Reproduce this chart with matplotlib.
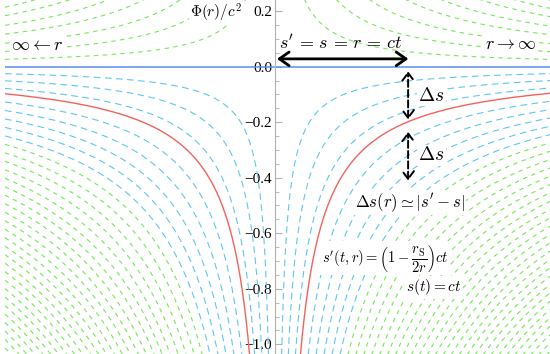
import numpy as np
import matplotlib
matplotlib.use("Agg")
import matplotlib.pyplot as plt

plt.rcParams['mathtext.fontset'] = 'cm'
plt.rcParams['font.family'] = ['Liberation Serif', 'DejaVu Serif']

# potential curves Phi = -k/|r| (k read at the plot edge)
k_red = 0.096
k_blue = [0.025, 0.05, 0.077, 0.125, 0.155, 0.185, 0.215, 0.245]
k_green_low = [0.275, 0.305, 0.335, 0.365, 0.395, 0.425, 0.455, 0.485, 0.515,
               0.545, 0.575, 0.605, 0.635, 0.665, 0.695, 0.725, 0.755, 0.785,
               0.815, 0.845, 0.875, 0.905, 0.935, 0.965, 0.995, 1.025, 1.055]
# upper family Phi = +k/|r|
k_green_up = [0.026, 0.054, 0.083, 0.115, 0.146, 0.18, 0.21, 0.24]

yticks = [0.2, 0.0, -0.2, -0.4, -0.6, -0.8, -1.0]

blue = '#5ec6f2'
green = '#74e858'
red = '#f2625c'
line0 = '#5b8ff0'

fig = plt.figure(figsize=(5.5, 3.54), dpi=100)
ax = fig.add_axes([5 / 550, 0, 545 / 550, 1])

xl = np.linspace(-0.982, -0.002, 2000)
xr = np.linspace(0.002, 1.0, 2000)

for xs in (xl, xr):
    for k in k_green_low:
        ax.plot(xs, -k / np.abs(xs), color=green, lw=0.8, dashes=(4, 4))
    for k in k_green_up:
        ax.plot(xs, k / np.abs(xs), color=green, lw=0.8, dashes=(4, 4))
    for k in k_blue:
        ax.plot(xs, -k / np.abs(xs), color=blue, lw=0.8, dashes=(6, 4))
    ax.plot(xs, -k_red / np.abs(xs), color=red, lw=1.0)

ax.axhline(0, color=line0, lw=1.1)

ax.set_xlim(-0.982, 1.0)
ax.set_ylim(-1.035, 0.24)

for s in ['top', 'right', 'bottom']:
    ax.spines[s].set_visible(False)
ax.spines['left'].set_position(('data', 0))
ax.spines['left'].set_color('#b0b0b0')
ax.spines['left'].set_zorder(5)
ax.set_xticks([])
ax.set_yticks(yticks)
ax.set_yticklabels(['%.1f' % v if v >= 0 else '\u2212%.1f' % -v for v in yticks])
ax.set_yticks(np.arange(-1.0, 0.25, 0.05), minor=True)
ax.tick_params(axis='y', which='major', direction='in', length=5, width=0.8,
               color='#b0b0b0', labelsize=11, pad=2)
ax.tick_params(axis='y', which='minor', direction='in', length=3, width=0.6,
               color='#b0b0b0')
for lab in ax.get_yticklabels():
    lab.set_bbox(dict(fc='white', ec='none', pad=0.5))

wb = dict(fc='white', ec='none', pad=1)
ax.text(-0.12, 0.195, r'$\Phi(r)/c^2$', fontsize=11, ha='right', va='center', bbox=wb)
ax.text(-0.96, 0.075, r'$\infty\leftarrow r$', fontsize=13, ha='left', va='center', bbox=wb)
ax.text(0.95, 0.08, r'$r\rightarrow\infty$', fontsize=13, ha='right', va='center', bbox=wb)
ax.text(0.24, 0.085, r"$s^{\prime}\,=\,s\,=\,r\,=\,ct$", fontsize=13, ha='center', va='center')

ax.annotate('', xy=(0.007, 0.028), xytext=(0.485, 0.028),
            arrowprops=dict(arrowstyle='<->,head_length=0.5,head_width=0.35',
                            color='black', lw=2, mutation_scale=14,
                            shrinkA=0, shrinkB=0))
ax.annotate('', xy=(0.484, -0.017), xytext=(0.484, -0.19),
            arrowprops=dict(arrowstyle='<->,head_length=0.4,head_width=0.3',
                            color='black', lw=1.4, ls='--', mutation_scale=14,
                            shrinkA=0, shrinkB=0))
ax.annotate('', xy=(0.484, -0.235), xytext=(0.484, -0.41),
            arrowprops=dict(arrowstyle='<->,head_length=0.4,head_width=0.3',
                            color='black', lw=1.4, ls='--', mutation_scale=14,
                            shrinkA=0, shrinkB=0))
ax.text(0.52, -0.105, r'$\Delta s$', fontsize=14, ha='left', va='center', bbox=wb)
ax.text(0.52, -0.32, r'$\Delta s$', fontsize=14, ha='left', va='center', bbox=wb)
ax.text(0.29, -0.49, r"$\Delta s(r)\simeq|s^{\prime}-s|$", fontsize=12,
        ha='left', va='center', bbox=wb)
ax.text(0.17, -0.69, r"$s^{\prime}(t,r)=\left(1-\dfrac{r_{\rm S}}{2r}\right)ct$",
        fontsize=10.5, ha='left', va='center', bbox=wb)
ax.text(0.475, -0.795, r'$s(t)=ct$', fontsize=11, ha='left', va='center', bbox=wb)

fig.savefig('out.png', dpi=100)
